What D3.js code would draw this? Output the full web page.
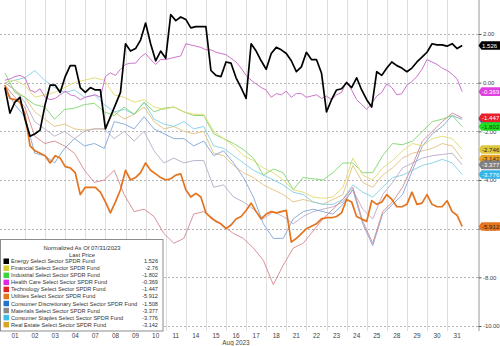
<!DOCTYPE html>
<html><head><meta charset="utf-8">
<script src="https://cdn.jsdelivr.net/npm/d3@7"></script>
<style>
html,body{margin:0;padding:0;background:#fff;}
svg{display:block;font-family:"Liberation Sans",Arial,sans-serif;}
</style></head><body>
<svg id="chart" width="500" height="346"></svg>
<script>
// Trading days of August 2023
const days = ["01","02","03","04","07","08","09","10","11","14","15","16","17","18","21","22","23","24","25","28","29","30","31"];
const yTicks = [2, 0, -2, -4, -6, -8, -10];

const seriesNames = [
  "Energy Select Sector SPDR Fund",
  "Financial Select Sector SPDR Fund",
  "Industrial Select Sector SPDR Fund",
  "Health Care Select Sector SPDR Fund",
  "Technology Select Sector SPDR Fund",
  "Utilities Select Sector SPDR Fund",
  "Consumer Discretionary Select Sector SPDR Fund",
  "Materials Select Sector SPDR Fund",
  "Consumer Staples Select Sector SPDR Fund",
  "Real Estate Select Sector SPDR Fund"
];
const legendText = ["1.526","-2.76","-1.802","-0.369","-1.447","-5.912","-1.508","-3.377","-3.776","-3.142"];
const swatchColors = ["#000000","#d8cc34","#3ed23e","#e028e0","#e42424","#e2781e","#2470cc","#8a8a8a","#3ebde8","#d8a424"];
const lineColors   = ["#000000","#e0da6c","#7cd66c","#cc74cc","#d4878c","#e4731e","#80a6d8","#b8aac8","#80cfe6","#e2bf7c"];
const tagFill      = ["#000000","#dcc83a","#22dc22","#e040e0","#e8202a","#e8741e","#2470cc","#808080","#34b4e8","#e8a424"];
const tagInk       = ["#ffffff","#222222","#114411","#ffffff","#ffffff","#222222","#ffffff","#ffffff","#ffffff","#222222"];

// Normalized returns (%), quarter-day steps
const energy = [
  -0.2,-1.25,-0.8,-0.6,-1.5,-2.2,-2.1,-1.95,-0.9,-0.1,
  -0.1,-0.4,0.25,0.7,0.7,-0.2,-0.4,-0.2,-0.3,-0.3,
  -1.9,-1.4,-0.9,-0.4,1.6,1.3,1.4,1.75,2.45,1.6,
  0.9,1.3,1.0,2.8,2.55,2.7,2.6,2.25,2.3,2.3,
  2.3,0.5,0.3,0.25,0.85,0.8,0.2,-0.2,-0.65,1.6,
  1.3,0.9,0.55,1.2,1.45,1.35,1.2,0.9,0.45,0.65,
  1.25,0.95,0.95,0.4,-1.2,-0.7,-0.3,-0.25,0.0,-0.2,
  0.2,-0.3,-0.7,-1.0,0.45,0.3,0.6,0.85,0.7,0.6,
  0.45,0.6,0.85,1.05,1.25,1.6,1.55,1.55,1.5,1.6,
  1.4,1.526
];
const utilities = [
  -0.1,-0.65,-0.7,-0.8,-1.3,-2.6,-2.8,-2.9,-3.0,-3.3,
  -3.0,-3.1,-3.45,-3.5,-3.7,-4.6,-4.3,-4.3,-4.3,-4.5,
  -4.9,-5.35,-4.9,-4.4,-3.6,-4.0,-3.9,-3.7,-3.3,-3.6,
  -3.75,-3.9,-4.0,-3.95,-3.8,-3.75,-4.4,-4.7,-4.55,-4.7,
  -5.35,-5.55,-5.7,-5.8,-6.0,-5.85,-5.6,-5.5,-5.25,-4.95,
  -5.3,-5.6,-5.4,-5.3,-5.35,-5.3,-5.25,-6.55,-6.4,-6.2,
  -6.0,-5.9,-5.8,-5.6,-5.55,-5.55,-5.5,-5.35,-4.8,-4.9,
  -5.5,-5.6,-5.7,-4.85,-5.0,-4.9,-4.6,-4.8,-5.1,-5.1,
  -5.0,-4.5,-5.0,-4.95,-4.6,-5.0,-5.1,-5.1,-4.85,-5.3,
  -5.45,-5.912
];
const healthCare = [
  0.1,0.15,0.25,0.3,0.2,-0.3,-0.4,-0.25,-0.6,-0.7,
  -0.65,-0.5,-0.35,-0.5,-0.55,-0.7,-0.6,-0.55,-0.5,-0.6,
  0.25,0.4,0.3,0.55,0.75,0.8,0.8,1.05,1.2,0.95,
  0.75,0.95,0.95,1.0,1.05,1.1,1.6,1.55,1.5,1.45,
  1.35,1.35,1.25,1.2,1.15,1.0,0.85,0.6,0.3,0.1,
  -0.05,-0.2,-0.3,-0.6,-0.45,-0.5,-0.35,-0.6,-0.45,-0.45,
  -0.6,-0.55,-0.5,-0.65,-0.55,-0.7,-0.5,-0.4,0.05,-0.3,
  -0.7,-0.9,-1.1,-0.85,-0.55,-0.4,-0.05,-0.2,-0.5,-0.45,
  -0.1,0.05,0.25,0.55,0.95,0.85,0.75,0.6,0.5,0.35,
  0.15,-0.369
];
// Half-day steps
const financial = [
  0,0.1,-0.1,-0.6,-0.5,-0.4,-0.2,0.0,0.1,0.2,0.1,
  -0.5,-0.6,-0.8,-0.7,-1.0,-1.1,-1.0,-1.2,-1.3,-1.3,
  -2.0,-2.3,-2.6,-3.0,-3.2,-3.5,-3.7,-4.0,-4.4,-4.5,
  -4.7,-4.75,-4.7,-4.3,-3.1,-3.8,-4.0,-3.5,-3.2,-2.8,
  -2.5,-2.6,-2.3,-2.2,-2.3,-2.746
];
const industrial = [
  0.4,-0.4,-0.6,-0.9,-1.0,-1.5,-1.1,-1.05,-0.9,-0.85,-1.2,
  -1.35,-1.0,-1.3,-0.8,-1.2,-1.05,-1.0,-1.2,-1.35,-1.35,
  -2.1,-2.3,-2.5,-2.75,-3.1,-3.8,-3.55,-3.7,-4.4,-3.9,
  -3.95,-4.0,-3.7,-3.3,-3.3,-3.7,-3.7,-3.0,-2.5,-2.55,
  -2.4,-2.0,-1.6,-1.5,-1.35,-1.802
];
const technology = [
  -0.1,-0.6,-1.0,-2.2,-2.5,-2.4,-2.6,-2.9,-3.6,-4.1,-4.0,
  -3.6,-4.6,-5.3,-5.2,-5.5,-6.2,-6.6,-6.4,-5.4,-5.3,
  -5.6,-5.9,-6.2,-6.4,-6.8,-7.3,-8.3,-7.5,-6.8,-6.6,
  -6.1,-5.6,-5.2,-4.8,-4.3,-5.7,-6.6,-5.3,-4.9,-4.3,
  -3.4,-2.4,-2.0,-1.6,-1.25,-1.447
];
const consumerDisc = [
  -0.2,-0.9,-1.4,-2.9,-3.0,-3.3,-2.7,-2.3,-2.6,-2.5,-2.7,
  -1.6,-1.7,-1.9,-1.4,-1.9,-2.1,-2.3,-2.3,-2.6,-2.4,
  -3.0,-2.8,-3.3,-3.9,-4.7,-5.8,-6.4,-6.4,-5.6,-5.3,
  -5.2,-5.3,-5.4,-5.0,-4.4,-5.8,-6.7,-5.4,-5.0,-4.6,
  -3.6,-2.6,-2.1,-1.8,-1.35,-1.508
];
const materials = [
  0,-0.3,-0.8,-1.6,-1.9,-2.2,-2.0,-2.3,-2.0,-1.9,-1.9,
  -2.3,-2.0,-2.4,-2.0,-2.8,-3.3,-3.1,-3.3,-3.2,-3.2,
  -4.3,-4.2,-4.7,-4.9,-5.2,-5.6,-5.3,-5.5,-5.8,-5.5,
  -5.3,-5.2,-5.1,-4.9,-4.4,-5.2,-5.6,-4.6,-4.1,-3.5,
  -3.3,-3.1,-3.0,-2.95,-2.9,-3.377
];
const consumerStaples = [
  0,0.1,0.2,0.5,0.1,-0.2,-0.4,-0.3,-0.6,-0.5,-0.9,
  -1.2,-1.1,-1.3,-0.8,-1.5,-1.7,-1.8,-1.6,-1.9,-1.8,
  -2.6,-2.7,-3.0,-3.3,-3.6,-3.8,-4.0,-4.2,-4.5,-4.6,
  -4.9,-5.0,-5.0,-4.8,-4.2,-4.5,-4.7,-4.3,-3.9,-3.8,
  -3.6,-3.4,-3.3,-3.15,-3.3,-3.776
];
const realEstate = [
  0,-0.3,-0.6,-1.2,-1.5,-1.8,-1.7,-1.9,-1.95,-1.9,-1.9,
  -1.2,-1.5,-1.3,-1.0,-1.6,-1.9,-1.8,-2.0,-2.1,-2.0,
  -2.9,-3.0,-3.4,-3.7,-3.9,-4.2,-4.4,-4.6,-4.9,-4.8,
  -4.9,-5.0,-4.8,-4.6,-3.4,-4.1,-4.3,-3.8,-3.5,-3.1,
  -2.9,-2.8,-2.7,-2.5,-2.6,-3.142
];

// Series in legend order
const seriesData = [energy, financial, industrial, healthCare, technology,
                    utilities, consumerDisc, materials, consumerStaples, realEstate];
const lastT = 22.75; // time of the final print, in trading days

const svg = d3.select("#chart");
const W = 500, H = 346;
const plotRight = 478.5, plotBottom = 331;

const xBand = d3.scaleBand().domain(days).range([4.9, 467.2]).padding(0);
const x = d3.scaleLinear().domain([0, days.length]).range([4.9, 467.2]);
const y = d3.scaleLinear().domain([-10, 2]).range([326, 34]);

// Vertical day separators
svg.append("g").selectAll("line")
  .data(days.slice(1))
  .join("line")
  .attr("x1", d => Math.round(xBand(d)) + 0.5)
  .attr("x2", d => Math.round(xBand(d)) + 0.5)
  .attr("y1", 0).attr("y2", plotBottom)
  .attr("stroke", "#dedede").attr("stroke-width", 1);

// Dotted value grid
svg.append("g").selectAll("line")
  .data(yTicks)
  .join("line")
  .attr("x1", 0).attr("x2", plotRight)
  .attr("y1", d => Math.round(y(d)) + 0.5)
  .attr("y2", d => Math.round(y(d)) + 0.5)
  .attr("stroke", "#b4b4b4").attr("stroke-width", 1)
  .attr("stroke-dasharray", "2,2");

// Lines
svg.append("clipPath").attr("id", "plotClip")
  .append("rect").attr("x", 0).attr("y", 0).attr("width", plotRight).attr("height", plotBottom);

const line = d3.line()
  .x(d => x(d[0]))
  .y(d => y(d[1]));

const toPoints = arr => arr.map((v, i) => [i * lastT / (arr.length - 1), v]);

const drawOrder = [9, 8, 7, 6, 4, 2, 1, 3, 5, 0];
const gLines = svg.append("g").attr("clip-path", "url(#plotClip)");
drawOrder.forEach(i => {
  const heavy = (i === 0 || i === 5);
  gLines.append("path")
    .datum(toPoints(seriesData[i]))
    .attr("d", line)
    .attr("fill", "none")
    .attr("stroke", lineColors[i])
    .attr("stroke-width", heavy ? 1.7 : (i === 3 ? 1.0 : 0.9))
    .attr("stroke-linejoin", "round");
});

// Right value axis
const yAxis = d3.axisRight(y)
  .tickValues(yTicks)
  .tickFormat(d => d.toFixed(2))
  .tickSize(3)
  .tickPadding(1.5);
const gy = svg.append("g").attr("transform", `translate(${plotRight},0)`).call(yAxis);
gy.select(".domain").attr("stroke", "#9a9a9a").attr("d", `M0.5,0V${plotBottom}`);
gy.selectAll(".tick line").attr("stroke", "#555");
gy.selectAll(".tick text").attr("fill", "#444").style("font-size", "6px").style("letter-spacing", "-0.1px");

// Date axis
const xAxis = d3.axisBottom(xBand).tickSize(0).tickPadding(0);
const gx = svg.append("g").attr("transform", `translate(0,${plotBottom + 1})`).call(xAxis);
gx.select(".domain").remove();
gx.selectAll(".tick text").attr("fill", "#444").style("font-size", "6.4px").attr("dy", "0.95em");

svg.append("text")
  .attr("x", 236).attr("y", 345)
  .attr("text-anchor", "middle")
  .attr("fill", "#444")
  .style("font-size", "6.4px")
  .text("Aug 2023");

// Last-price tags on the right axis
const tagOrder = [6, 4, 2, 1, 9, 7, 8, 5, 3, 0];
const gTags = svg.append("g");
tagOrder.forEach(i => {
  const arr = seriesData[i];
  const v = arr[arr.length - 1];
  const yy = y(v);
  gTags.append("path")
    .attr("d", `M${plotRight},${yy} L${plotRight + 3},${yy - 4.3} L${W},${yy - 4.3} L${W},${yy + 4.3} L${plotRight + 3},${yy + 4.3} Z`)
    .attr("fill", tagFill[i]);
  gTags.append("text")
    .attr("x", plotRight + 3.5).attr("y", yy)
    .attr("dy", "0.35em")
    .attr("fill", tagInk[i])
    .style("font-size", "6.1px")
    .text(v.toFixed(3));
});

// Legend
const lg = svg.append("g");
lg.append("rect")
  .attr("x", 0.5).attr("y", 239.5).attr("width", 162.5).attr("height", 91.5)
  .attr("fill", "#fff").attr("stroke", "#8c8c8c").attr("stroke-width", 1);
lg.append("text").attr("x", 82).attr("y", 250).attr("text-anchor", "middle")
  .attr("fill", "#333").style("font-size", "5.9px").text("Normalized As Of 07/31/2023");
lg.append("text").attr("x", 82).attr("y", 257).attr("text-anchor", "middle")
  .attr("fill", "#333").style("font-size", "5.9px").text("Last Price");

const rowY = d3.scaleLinear().domain([0, 9]).range([261.3, 324.7]);
seriesNames.forEach((name, i) => {
  const ry = rowY(i);
  lg.append("rect")
    .attr("x", 3.5).attr("y", ry - 2.8).attr("width", 5.5).attr("height", 5.5)
    .attr("fill", swatchColors[i]);
  lg.append("text")
    .attr("x", 11).attr("y", ry).attr("dy", "0.35em")
    .attr("fill", "#333").style("font-size", "5.6px")
    .text(name);
  lg.append("text")
    .attr("x", 158).attr("y", ry).attr("dy", "0.35em")
    .attr("text-anchor", "end")
    .attr("fill", "#333").style("font-size", "5.6px")
    .text(legendText[i]);
});
</script>
</body></html>
